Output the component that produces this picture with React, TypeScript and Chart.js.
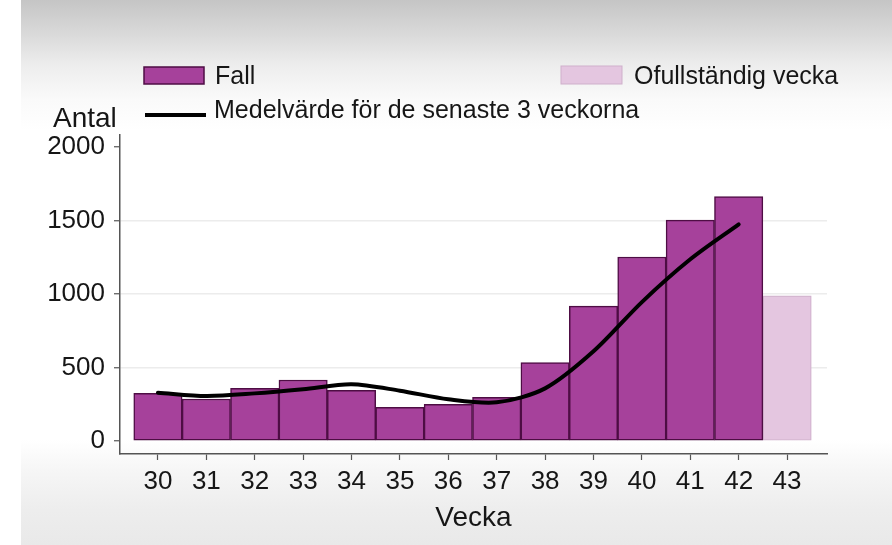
import React, { useEffect, useRef } from 'react';
import { Chart, registerables } from 'chart.js';

Chart.register(...registerables);

// ---- data ----
const weeks = [30, 31, 32, 33, 34, 35, 36, 37, 38, 39, 40, 41, 42];
const fallCases = [324, 286, 358, 415, 345, 229, 250, 297, 533, 918, 1252, 1503, 1662];
const incompleteWeeks = [43];
const incompleteCases = [988];
const avgWeeks = [30, 31, 32, 33, 34, 35, 36, 37, 38, 39, 40, 41, 42];
const avgValues = [329, 306, 324, 352, 386, 342, 284, 263, 358, 610, 945, 1236, 1474];
const xTickValues = [30, 31, 32, 33, 34, 35, 36, 37, 38, 39, 40, 41, 42, 43];
const yTickValues = [0, 500, 1000, 1500, 2000];
const gridValues = [500, 1000, 1500];

const fallLabel = 'Fall';
const incompleteLabel = 'Ofullständig vecka';
const avgLabel = 'Medelvärde för de senaste 3 veckorna';
const yTitle = 'Antal';
const xTitle = 'Vecka';

const FONT = "'Liberation Sans', Arial, Helvetica, sans-serif";
const TEXT = '#161616';
const AXIS = '#555555';
const FALL_FILL = '#a6419b';
const FALL_BORDER = '#4e0d44';
const INC_FILL = '#e4c6e0';
const INC_BORDER = '#cfb0cb';

const customLegend = {
  id: 'customLegend',
  afterDraw(chart: any) {
    const ctx = chart.ctx;
    const ds = chart.data.datasets;
    ctx.save();
    ctx.fillStyle = TEXT;
    ctx.textBaseline = 'alphabetic';
    ctx.textAlign = 'left';
    // y title
    ctx.font = `28px ${FONT}`;
    ctx.fillText(yTitle, 53, 127);
    // legend
    ctx.font = `25px ${FONT}`;
    // Fall
    ctx.fillStyle = ds[0].backgroundColor;
    ctx.fillRect(144, 67, 60, 17);
    ctx.strokeStyle = ds[0].borderColor;
    ctx.lineWidth = 1.5;
    ctx.strokeRect(144, 67, 60, 17);
    ctx.fillStyle = TEXT;
    ctx.fillText(ds[0].label, 215, 84);
    // incomplete
    ctx.fillStyle = ds[1].backgroundColor;
    ctx.fillRect(561, 66, 61, 18);
    ctx.strokeStyle = ds[1].borderColor;
    ctx.lineWidth = 1;
    ctx.strokeRect(561, 66, 61, 18);
    ctx.fillStyle = TEXT;
    ctx.fillText(ds[1].label, 634, 84);
    // line
    ctx.strokeStyle = ds[2].borderColor;
    ctx.lineWidth = 4;
    ctx.beginPath();
    ctx.moveTo(145, 115);
    ctx.lineTo(206, 115);
    ctx.stroke();
    ctx.fillStyle = TEXT;
    ctx.fillText(ds[2].label, 214, 118);
    ctx.restore();
  },
};

export default function App() {
  const canvasRef = useRef<HTMLCanvasElement | null>(null);

  useEffect(() => {
    const canvas = canvasRef.current;
    if (!canvas) return;
    const chart = new Chart(canvas, {
      type: 'bar',
      data: {
        datasets: [
          {
            type: 'bar',
            label: fallLabel,
            data: weeks.map((w, i) => ({ x: w, y: fallCases[i] })),
            backgroundColor: FALL_FILL,
            borderColor: FALL_BORDER,
            borderWidth: 1.5,
            borderSkipped: false,
            barPercentage: 1,
            categoryPercentage: 1,
            grouped: false,
            order: 2,
          } as any,
          {
            type: 'bar',
            label: incompleteLabel,
            data: incompleteWeeks.map((w, i) => ({ x: w, y: incompleteCases[i] })),
            backgroundColor: INC_FILL,
            borderColor: INC_BORDER,
            borderWidth: 1.2,
            borderSkipped: false,
            barPercentage: 1,
            categoryPercentage: 1,
            grouped: false,
            order: 3,
          } as any,
          {
            type: 'line',
            label: avgLabel,
            data: avgWeeks.map((w, i) => ({ x: w, y: avgValues[i] })),
            borderColor: '#000000',
            backgroundColor: '#000000',
            borderWidth: 4,
            pointRadius: 0,
            tension: 0.3,
            borderCapStyle: 'round',
            borderJoinStyle: 'round',
            order: 0,
          } as any,
        ],
      },
      options: {
        responsive: false,
        animation: false,
        devicePixelRatio: 1,
        layout: { padding: { top: 135, right: 65, left: 0, bottom: 0 } },
        plugins: {
          legend: { display: false },
          tooltip: { enabled: false },
          title: { display: false },
        },
        scales: {
          x: {
            type: 'linear',
            min: 29.216,
            max: 43.825,
            offset: false,
            afterBuildTicks: (scale: any) => {
              scale.ticks = xTickValues.map((v) => ({ value: v }));
            },
            afterFit: (scale: any) => {
              scale.height = 91;
            },
            grid: {
              offset: false,
              drawOnChartArea: false,
              drawTicks: true,
              tickLength: 6,
              tickColor: AXIS,
              tickWidth: 1.2,
            },
            border: { display: true, color: AXIS, width: 1.5 },
            ticks: {
              font: { family: FONT, size: 26 },
              color: TEXT,
              padding: 6,
              maxRotation: 0,
              autoSkip: false,
              callback: (v: any) => String(v),
            },
            title: {
              display: true,
              text: xTitle,
              font: { family: FONT, size: 28 },
              color: TEXT,
              padding: { top: 0, bottom: 10 },
            },
          } as any,
          y: {
            type: 'linear',
            min: -88.4,
            max: 2081.6,
            afterBuildTicks: (scale: any) => {
              scale.ticks = yTickValues.map((v) => ({ value: v }));
            },
            afterFit: (scale: any) => {
              scale.width = 120;
            },
            grid: {
              drawOnChartArea: true,
              drawTicks: true,
              tickLength: 6,
              color: (c: any) =>
                c.tick && gridValues.includes(c.tick.value) ? '#ececec' : 'rgba(0,0,0,0)',
              tickColor: AXIS,
              tickWidth: 1.2,
              lineWidth: 1.5,
            },
            border: { display: true, color: AXIS, width: 1.5 },
            ticks: {
              font: { family: FONT, size: 26 },
              color: TEXT,
              padding: 9,
              autoSkip: false,
              callback: (v: any) => String(v),
            },
          } as any,
        },
      } as any,
      plugins: [customLegend],
    });
    return () => chart.destroy();
  }, []);

  return (
    <div
      style={{
        position: 'fixed',
        left: 0,
        top: 0,
        width: 892,
        height: 545,
        background:
          'linear-gradient(to bottom, #c5c5c5 0px, #dadada 35px, #ededed 65px, #fafafa 100px, #ffffff 130px, #ffffff 440px, #f6f6f6 470px, #ededed 510px, #e9e9e9 545px)',
      }}
    >
      <div
        style={{ position: 'absolute', left: 0, top: 0, width: 21, height: 545, background: '#ffffff' }}
      />
      <canvas
        ref={canvasRef}
        width={892}
        height={545}
        style={{ position: 'absolute', left: 0, top: 0, width: 892, height: 545 }}
      />
    </div>
  );
}
